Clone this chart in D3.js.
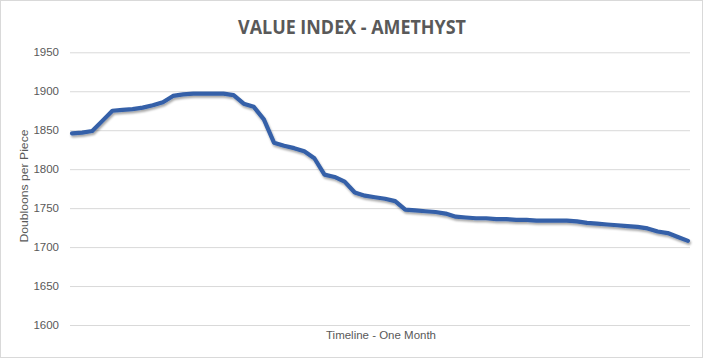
<!DOCTYPE html>
<html>
<head>
<meta charset="utf-8">
<script src="https://cdn.jsdelivr.net/npm/d3@7"></script>
<style>
  body { margin: 0; background: #fff; }
  svg { display: block; }
</style>
</head>
<body>
<svg id="chart" width="705" height="359"></svg>
<script>
// data (about two readings per day)
const title = "VALUE INDEX - AMETHYST";
const yLabel = "Doubloons per Piece";
const xLabel = "Timeline - One Month";
const yTicks = [1600, 1650, 1700, 1750, 1800, 1850, 1900, 1950];
const values = [
  1846, 1847, 1849, 1862, 1875, 1876, 1877, 1879, 1882, 1886,
  1894, 1896, 1897, 1897, 1897, 1897, 1895, 1884, 1880, 1864,
  1834, 1830, 1827, 1823, 1814, 1793, 1790, 1784, 1770, 1766,
  1764, 1762, 1759, 1748, 1747, 1746, 1745, 1743, 1739, 1738,
  1737, 1737, 1736, 1736, 1735, 1735, 1734, 1734, 1734, 1734,
  1733, 1731, 1730, 1729, 1728, 1727, 1726, 1724, 1720, 1718,
  1713, 1708
];
const steps = values.map((d, i) => i);

const svg = d3.select("#chart");
const plotLeft = 70, plotRight = 690, plotTop = 52.3, plotBottom = 325;

// chart border
svg.append("rect")
  .attr("x", 0.5).attr("y", 0.5)
  .attr("width", 702).attr("height", 357)
  .attr("fill", "#fff").attr("stroke", "#d9d9d9");

// shadow under the line
const defs = svg.append("defs");
defs.append("filter").attr("id", "shadow")
  .attr("x", "-5%").attr("y", "-20%").attr("width", "110%").attr("height", "140%")
  .append("feDropShadow")
  .attr("dx", 1).attr("dy", 2).attr("stdDeviation", 1.3)
  .attr("flood-color", "#000").attr("flood-opacity", 0.35);

const xScale = d3.scalePoint().domain(steps).range([plotLeft, plotRight]).padding(0.2);
const yScale = d3.scaleLinear().domain([1600, 1950]).range([plotBottom, plotTop]);

// y axis with gridlines
const yAxis = svg.append("g")
  .attr("transform", `translate(${plotLeft},0)`)
  .call(d3.axisLeft(yScale).tickValues(yTicks).tickSize(-(plotRight - plotLeft)).tickPadding(11).tickFormat(d3.format("d")));
yAxis.select(".domain").remove();
yAxis.selectAll(".tick line").attr("stroke", "#d9d9d9");
yAxis.selectAll(".tick text")
  .attr("fill", "#595959")
  .style("font-family", "'Liberation Sans', Arial, sans-serif")
  .style("font-size", "11.5px");

// line
const line = d3.line()
  .x((d, i) => xScale(i))
  .y(d => yScale(d));
svg.append("path")
  .datum(values)
  .attr("d", line)
  .attr("fill", "none")
  .attr("stroke", "#3560a8")
  .attr("stroke-width", 4.2)
  .attr("stroke-linejoin", "round")
  .attr("stroke-linecap", "round")
  .attr("filter", "url(#shadow)");

// title
svg.append("text")
  .attr("x", 352).attr("y", 34)
  .attr("text-anchor", "middle")
  .attr("textLength", 228).attr("lengthAdjust", "spacingAndGlyphs")
  .attr("fill", "#595959")
  .style("font-family", "'Open Sans', 'Liberation Sans', sans-serif")
  .style("font-weight", "bold")
  .style("font-size", "19px")
  .text(title);

// axis titles
svg.append("text")
  .attr("transform", "translate(28,186) rotate(-90)")
  .attr("text-anchor", "middle")
  .attr("textLength", 113).attr("lengthAdjust", "spacingAndGlyphs")
  .attr("fill", "#595959")
  .style("font-family", "'Liberation Sans', Arial, sans-serif")
  .style("font-size", "11.5px")
  .text(yLabel);

svg.append("text")
  .attr("x", 381).attr("y", 339)
  .attr("text-anchor", "middle")
  .attr("textLength", 110).attr("lengthAdjust", "spacingAndGlyphs")
  .attr("fill", "#595959")
  .style("font-family", "'Liberation Sans', Arial, sans-serif")
  .style("font-size", "11.5px")
  .text(xLabel);
</script>
</body>
</html>
